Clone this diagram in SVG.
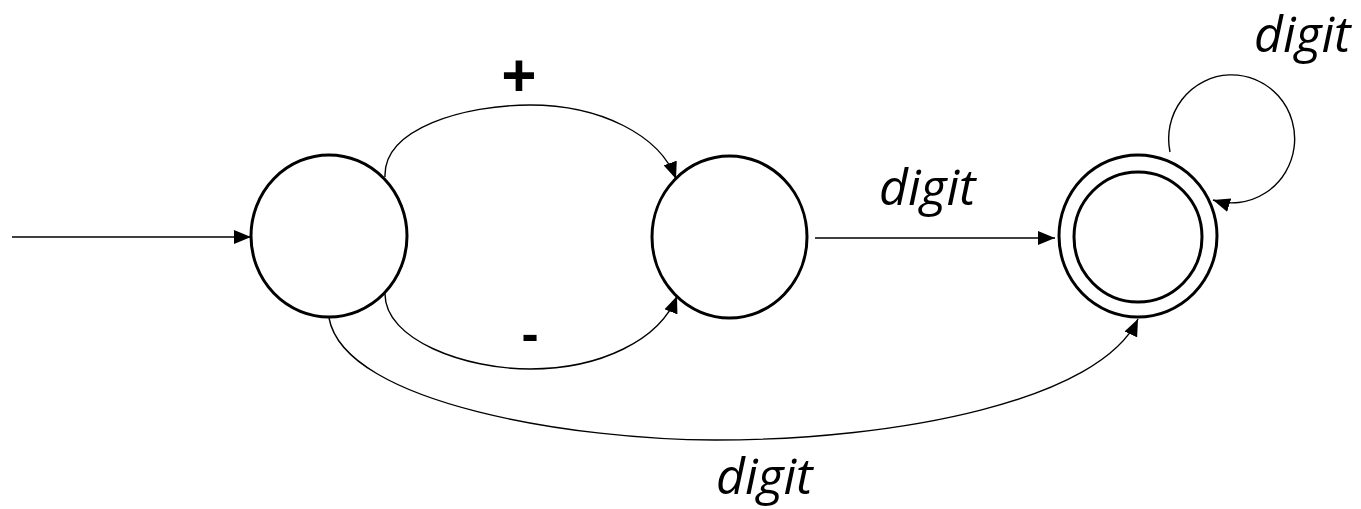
<svg xmlns="http://www.w3.org/2000/svg" width="1361" height="509" viewBox="0 0 1361 509">
<style>
.state{fill:#fff;stroke:#000;stroke-width:3}
.edge{fill:none;stroke:#000;stroke-width:1.4;marker-end:url(#ah)}
.lbl{font-family:"Open Sans","Liberation Sans",sans-serif;font-style:italic;font-size:50px;fill:#000}
.sym{font-family:"Open Sans","Liberation Sans",sans-serif;fill:#000;text-anchor:middle;font-weight:bold}
</style>
<defs>
<marker id="ah" markerUnits="userSpaceOnUse" markerWidth="17" markerHeight="14" viewBox="0 0 17 14" refX="17" refY="7" orient="auto">
<path d="M0,0 L17,7 L0,14 z" fill="#000"/>
</marker>
</defs>
<rect width="1361" height="509" fill="#fff"/>
<g id="connectors">
<path class="edge" d="M12,237 L251,237"/>
<path class="edge" d="M385,177 C383,128 465,105 530,105 C600,105 660,135 676,179"/>
<path class="edge" d="M385,294 C385,340 465,369 530,369 C600,369 660,340 677,296"/>
<path class="edge" d="M815,238 L1055,238"/>
<path class="edge" d="M329,318 C345,405 580,440 715,440 C900,440 1100,400 1138,319"/>
<path class="edge" d="M1170,152 A63,64 0 1 1 1213,200"/>
</g>
<g id="s0"><ellipse class="state" cx="329" cy="236" rx="78" ry="81"/></g>
<g id="s1"><ellipse class="state" cx="729.5" cy="237" rx="77.5" ry="81"/></g>
<g id="s2"><ellipse class="state" cx="1138" cy="236" rx="79" ry="81"/><ellipse class="state" cx="1138" cy="237" rx="64" ry="65"/></g>
<g id="labels">
<text class="sym" x="519" y="98" font-size="62">+</text>
<text class="sym" x="530" y="351" font-size="50">-</text>
<text class="lbl" x="879" y="205">digit</text>
<text class="lbl" x="1254" y="52" font-size="48">digit</text>
<text class="lbl" x="716" y="494">digit</text>
</g>
</svg>
